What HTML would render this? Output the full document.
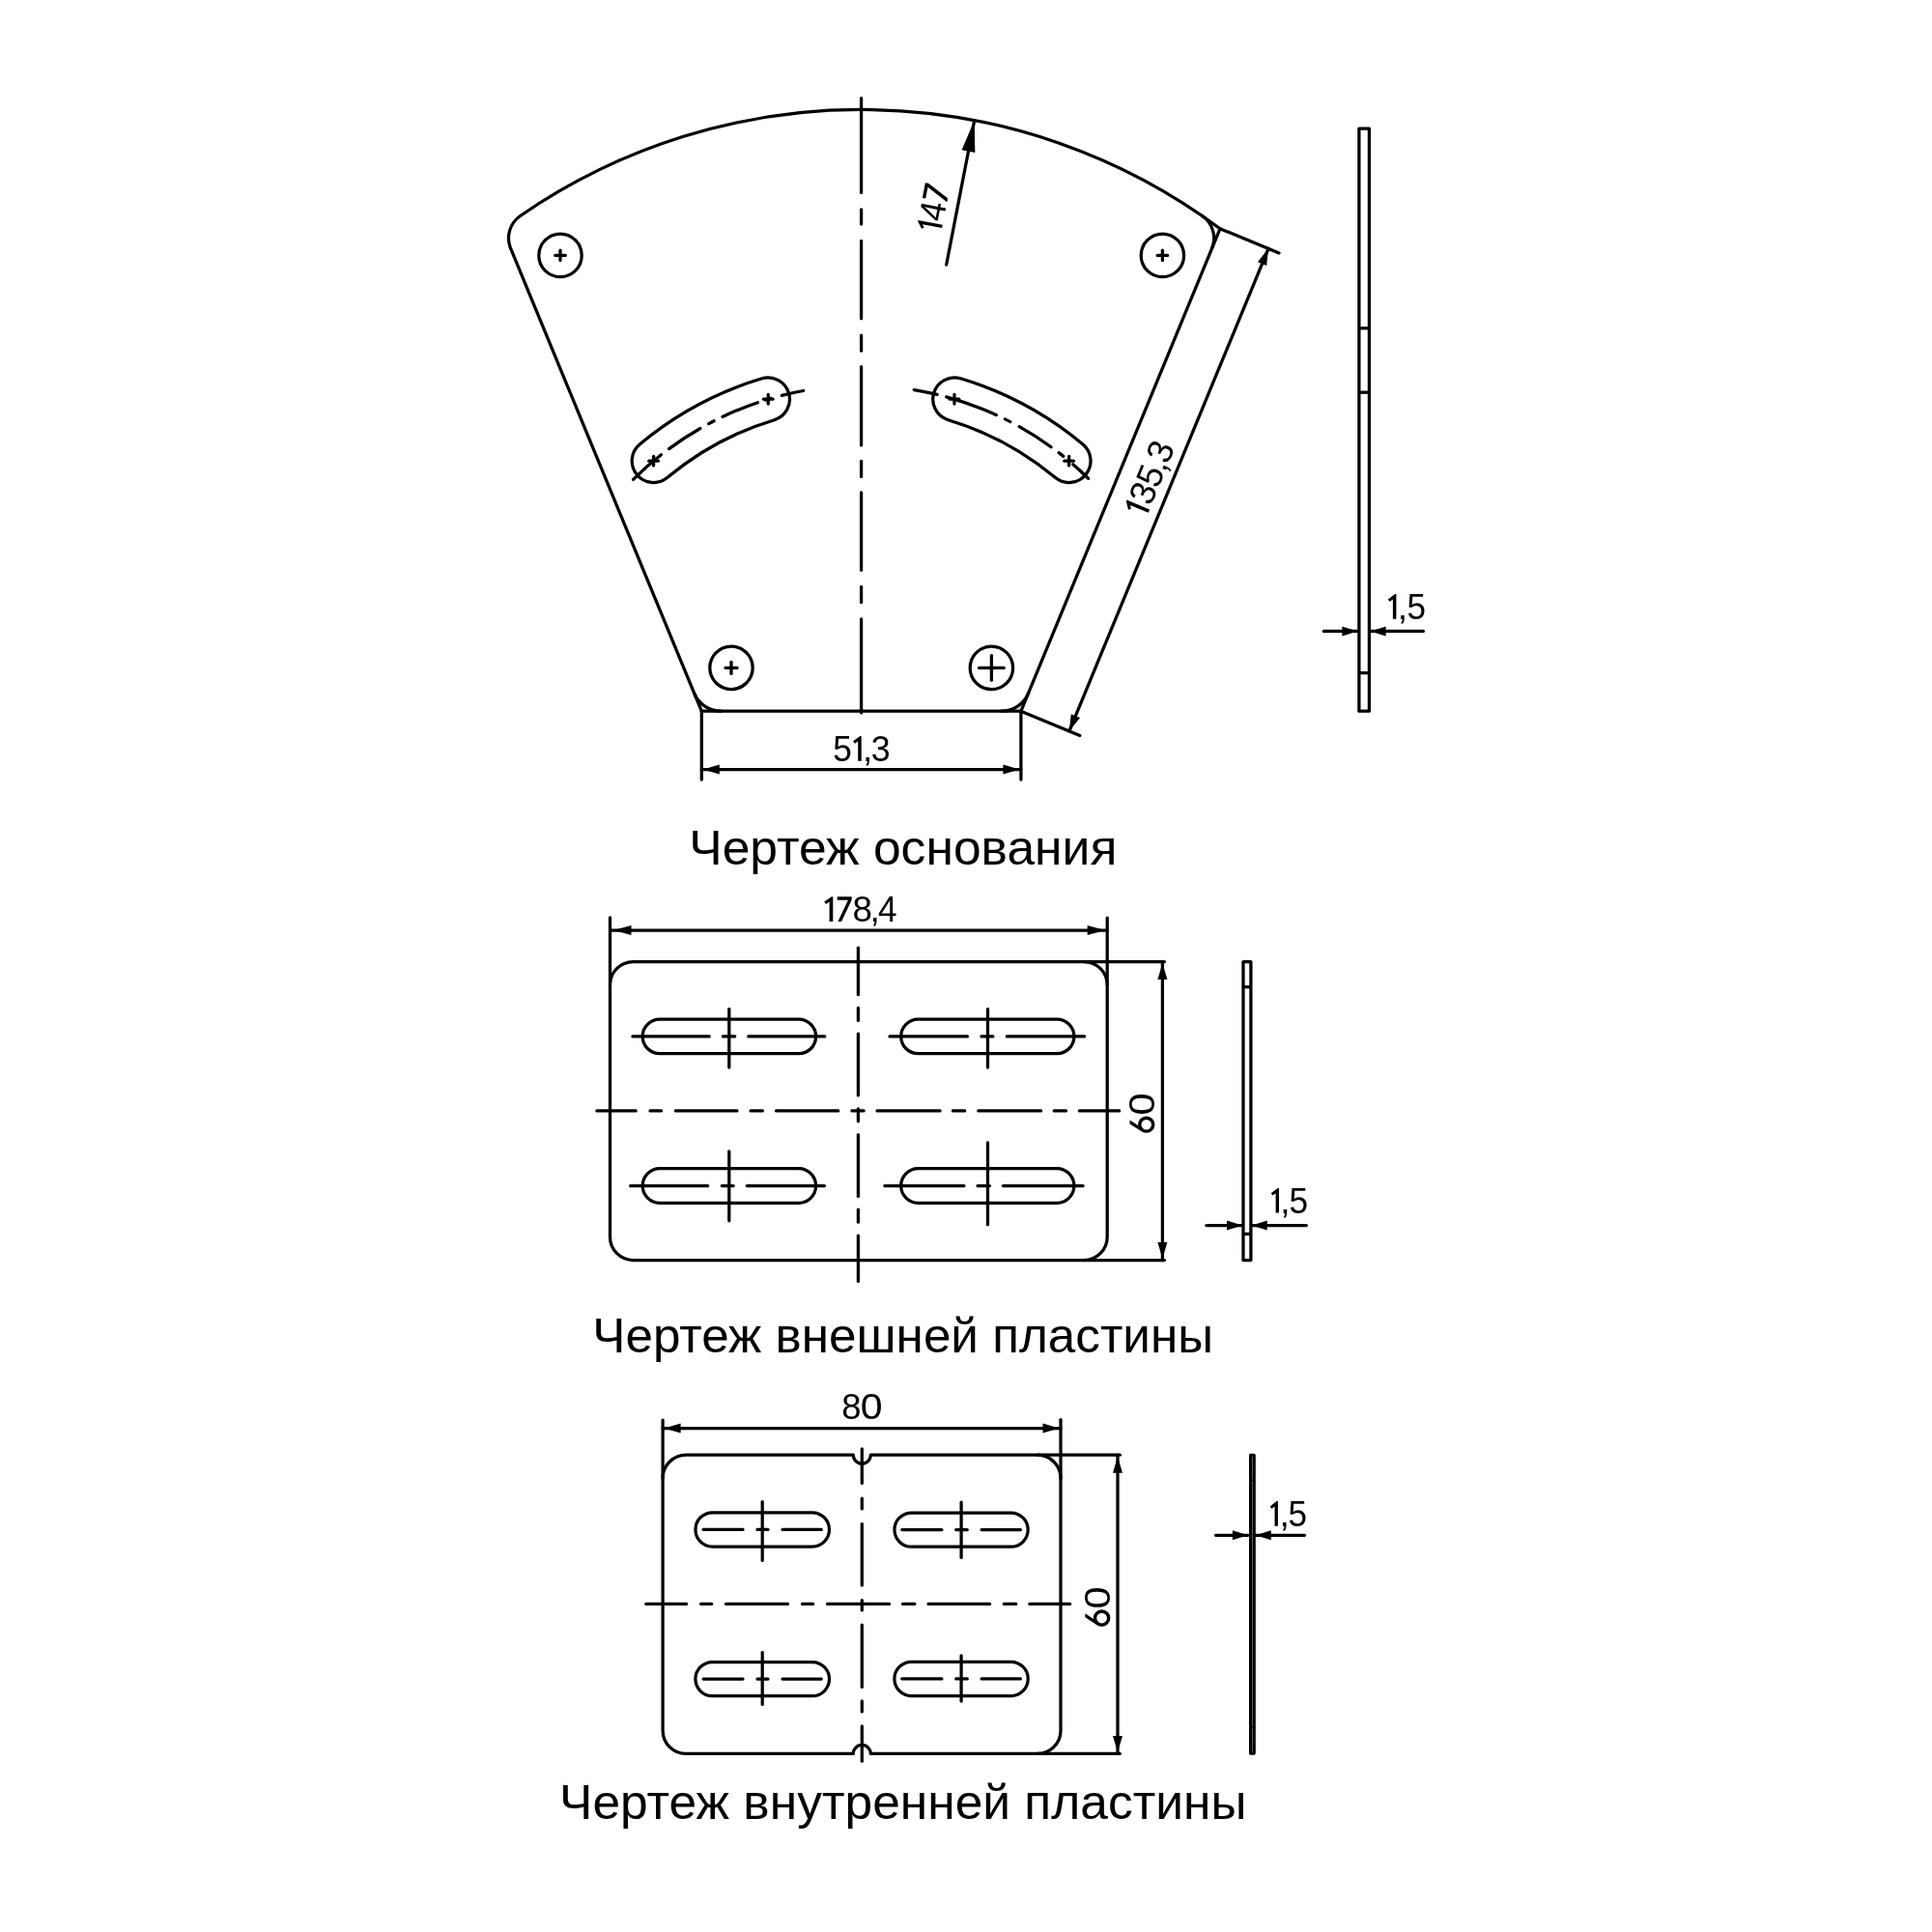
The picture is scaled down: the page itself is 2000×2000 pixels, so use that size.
<!DOCTYPE html>
<html><head><meta charset="utf-8"><style>
html,body{margin:0;padding:0;background:#fff;width:2000px;height:2000px;overflow:hidden}
svg{display:block;will-change:transform}
text{font-family:"Liberation Sans",sans-serif;fill:#000;stroke:none}
</style></head><body>
<svg xmlns="http://www.w3.org/2000/svg" width="2000" height="2000" viewBox="0 0 2000 2000" stroke="#000" stroke-linecap="round" stroke-linejoin="round" fill="none" stroke-width="3.25">
<rect x="0" y="0" width="2000" height="2000" fill="#fff" stroke="none"/>
<path d="M528.62,257.21 A28.0,28.0 0 0 1 538.59,223.5 A621,621 0 0 1 1263.03,236.73 L1056.9,736.2 L726.3,736.2 L528.62,257.21" stroke-width="3.25" fill="none"/>
<path d="M1244.61,223.5 A28.0,28.0 0 0 1 1254.58,257.21" stroke-width="3.25" fill="none"/>
<path d="M718.64,717.64 A30.0,30.0 0 0 0 746.37,736.2" stroke-width="3.25" fill="none"/>
<path d="M1036.83,736.2 A30.0,30.0 0 0 0 1064.56,717.64" stroke-width="3.25" fill="none"/>
<line x1="891.6" y1="101.72" x2="891.6" y2="199.47" stroke-width="3.25"/>
<line x1="891.6" y1="216.82" x2="891.6" y2="232.07" stroke-width="3.25"/>
<line x1="891.6" y1="249.43" x2="891.6" y2="329.77" stroke-width="3.25"/>
<line x1="891.6" y1="347.02" x2="891.6" y2="363.18" stroke-width="3.25"/>
<line x1="891.6" y1="379.62" x2="891.6" y2="460.88" stroke-width="3.25"/>
<line x1="891.6" y1="477.32" x2="891.6" y2="493.38" stroke-width="3.25"/>
<line x1="891.6" y1="509.82" x2="891.6" y2="590.17" stroke-width="3.25"/>
<line x1="891.6" y1="607.42" x2="891.6" y2="623.58" stroke-width="3.25"/>
<line x1="891.6" y1="640.83" x2="891.6" y2="737.88" stroke-width="3.25"/>
<circle cx="580" cy="264.4" r="22.2" fill="none"/>
<line x1="574.8" y1="264.4" x2="585.2" y2="264.4" stroke-width="3.25"/>
<line x1="580" y1="259.2" x2="580" y2="269.6" stroke-width="3.25"/>
<circle cx="1203.4" cy="264.4" r="22.2" fill="none"/>
<line x1="1198.2" y1="264.4" x2="1208.6" y2="264.4" stroke-width="3.25"/>
<line x1="1203.4" y1="259.2" x2="1203.4" y2="269.6" stroke-width="3.25"/>
<circle cx="757" cy="691.3" r="22.2" fill="none"/>
<line x1="751.05" y1="691.3" x2="762.95" y2="691.3" stroke-width="3.25"/>
<line x1="757" y1="685.35" x2="757" y2="697.25" stroke-width="3.25"/>
<circle cx="1026.4" cy="691.4" r="22.2" fill="none"/>
<line x1="1013.6" y1="691.4" x2="1039.2" y2="691.4" stroke-width="3.25"/>
<line x1="1026.4" y1="678.6" x2="1026.4" y2="704.2" stroke-width="3.25"/>
<path d="M662.2,459.94 A357.7,357.7 0 0 1 788.81,391.79 A22.4,22.4 0 0 1 801.68,434.7 A312.9,312.9 0 0 0 690.93,494.32 A22.4,22.4 0 0 1 662.2,459.94 Z" stroke-width="3.25" fill="none"/>
<line x1="671.77" y1="477.13" x2="681.37" y2="477.13" stroke-width="3.25"/>
<line x1="676.57" y1="472.33" x2="676.57" y2="481.93" stroke-width="3.25"/>
<line x1="790.45" y1="413.24" x2="800.05" y2="413.24" stroke-width="3.25"/>
<line x1="795.25" y1="408.44" x2="795.25" y2="418.04" stroke-width="3.25"/>
<path d="M655.53,496.29 A335.3,335.3 0 0 1 684.4,470.78" stroke-width="3.25" fill="none"/>
<path d="M692.52,464.6 A335.3,335.3 0 0 1 724.88,443.49" stroke-width="3.25" fill="none"/>
<path d="M733.6,438.66 A335.3,335.3 0 0 1 739.08,435.8" stroke-width="3.25" fill="none"/>
<path d="M747.97,431.42 A335.3,335.3 0 0 1 784.4,416.7" stroke-width="3.25" fill="none"/>
<path d="M792.48,414.08 A335.3,335.3 0 0 1 798.02,412.42" stroke-width="3.25" fill="none"/>
<path d="M809.33,409.35 A335.3,335.3 0 0 1 831.67,404.5" stroke-width="3.25" fill="none"/>
<path d="M1121,459.94 A357.7,357.7 0 0 0 994.39,391.79 A22.4,22.4 0 0 0 981.52,434.7 A312.9,312.9 0 0 1 1092.27,494.32 A22.4,22.4 0 0 0 1121,459.94 Z" stroke-width="3.25" fill="none"/>
<line x1="1101.83" y1="477.13" x2="1111.43" y2="477.13" stroke-width="3.25"/>
<line x1="1106.63" y1="472.33" x2="1106.63" y2="481.93" stroke-width="3.25"/>
<line x1="983.15" y1="413.24" x2="992.75" y2="413.24" stroke-width="3.25"/>
<line x1="987.95" y1="408.44" x2="987.95" y2="418.04" stroke-width="3.25"/>
<path d="M1126.67,495.3 A335.3,335.3 0 0 0 1110.81,480.68" stroke-width="3.25" fill="none"/>
<path d="M1100.8,472.37 A335.3,335.3 0 0 0 1096.03,468.63" stroke-width="3.25" fill="none"/>
<path d="M1088.09,462.7 A335.3,335.3 0 0 0 1055.16,441.7" stroke-width="3.25" fill="none"/>
<path d="M1045.82,436.67 A335.3,335.3 0 0 0 1040.35,433.9" stroke-width="3.25" fill="none"/>
<path d="M1031.36,429.62 A335.3,335.3 0 0 0 979.72,410.89" stroke-width="3.25" fill="none"/>
<path d="M970.18,408.44 A335.3,335.3 0 0 0 946.23,403.58" stroke-width="3.25" fill="none"/>
<line x1="979.7" y1="274" x2="1008.7" y2="124.6" stroke-width="3.25"/>
<path d="M1008.7,124.6 L1009.36,157.94 L995.62,155.27 Z" fill="#000" stroke="none"/>
<g transform="translate(974.2,240.7) rotate(-79.015)"><polygon points="4.75,0 4.75,-20.49 1.75,-18.16 0,-20.49 6.75,-25.8 8,-25.8 8,0" fill="#000" stroke="none"/><text transform="translate(10.51,0) scale(0.9427,1)" font-size="37.39">4</text><polygon points="31.4,-25.8 47.4,-25.8 47.4,-22.57 36.09,0 32.15,0 43.4,-22.37 31.4,-22.37" fill="#000" stroke="none"/></g>
<line x1="1263.03" y1="236.73" x2="1324.04" y2="261.9" stroke-width="3.25"/>
<line x1="1056.9" y1="736.2" x2="1117.91" y2="761.38" stroke-width="3.25"/>
<line x1="1313.04" y1="257.37" x2="1106.91" y2="756.84" stroke-width="3.25"/>
<path d="M1313.04,257.37 L1311.18,274.99 L1301.93,271.17 Z" fill="#000" stroke="none"/>
<path d="M1106.91,756.84 L1108.77,739.22 L1118.02,743.03 Z" fill="#000" stroke="none"/>
<g transform="translate(1186.79,535.44) rotate(-67.574)"><polygon points="5.17,0 5.17,-20.33 1.91,-18.02 0,-20.33 7.35,-25.6 8.71,-25.6 8.71,0" fill="#000" stroke="none"/><text transform="translate(11.81,0) scale(0.9771,1)" font-size="37.1">3</text><text transform="translate(31.29,0) scale(0.9658,1)" font-size="37.1">5</text><text x="49.41" y="0" font-size="37.1">,</text><text transform="translate(58.31,0) scale(0.9771,1)" font-size="37.1">3</text></g>
<line x1="726.3" y1="736.2" x2="726.3" y2="807" stroke-width="3.25"/>
<line x1="1056.9" y1="736.2" x2="1056.9" y2="807" stroke-width="3.25"/>
<line x1="726.3" y1="796.6" x2="1056.9" y2="796.6" stroke-width="3.25"/>
<path d="M727.8,796.6 L744.8,791.6 L744.8,801.6 Z" fill="#000" stroke="none"/>
<path d="M1055.4,796.6 L1038.4,801.6 L1038.4,791.6 Z" fill="#000" stroke="none"/>
<g transform="translate(863.7,787.7)"><text transform="translate(-1.41,0) scale(0.9533,1)" font-size="37.1">5</text><polygon points="24.51,0 24.51,-20.33 21.28,-18.02 19.4,-20.33 26.66,-25.6 28,-25.6 28,0" fill="#000" stroke="none"/><text x="29.31" y="0" font-size="37.1">,</text><text transform="translate(38.06,0) scale(0.9646,1)" font-size="37.1">3</text></g>
<rect x="1406.9" y="133" width="10.5" height="603.2" fill="none"/>
<line x1="1406.9" y1="339.8" x2="1417.4" y2="339.8" stroke-linecap="butt"/>
<line x1="1406.9" y1="406.2" x2="1417.4" y2="406.2" stroke-linecap="butt"/>
<line x1="1406.9" y1="696.6" x2="1417.4" y2="696.6" stroke-linecap="butt"/>
<line x1="1370.4" y1="653.4" x2="1405.4" y2="653.4" stroke-width="3.25"/>
<path d="M1405.4,653.4 L1389.4,658.4 L1389.4,648.4 Z" fill="#000" stroke="none"/>
<line x1="1418.6" y1="653.4" x2="1473.4" y2="653.4" stroke-width="3.25"/>
<path d="M1418.6,653.4 L1434.6,648.4 L1434.6,658.4 Z" fill="#000" stroke="none"/>
<g transform="translate(1436.8,640.8)"><polygon points="5.11,0 5.11,-20.41 1.88,-18.09 0,-20.41 7.26,-25.7 8.6,-25.7 8.6,0" fill="#000" stroke="none"/><text x="9.99" y="0" font-size="37.25">,</text><text transform="translate(19.59,0) scale(0.9439,1)" font-size="37.25">5</text></g>
<text transform="translate(713.27,895.4) scale(1.0160,1)" font-size="50.8" >Чертеж основания</text>
<path d="M655.5,995.6 L1122.2,995.6 A24.0,24.0 0 0 1 1146.2,1019.6 L1146.2,1280.5 A24.0,24.0 0 0 1 1122.2,1304.5 L655.5,1304.5 A24.0,24.0 0 0 1 631.5,1280.5 L631.5,1019.6 A24.0,24.0 0 0 1 655.5,995.6 Z" stroke-width="3.25" fill="none"/>
<line x1="631.5" y1="949.8" x2="631.5" y2="1019.6" stroke-width="3.25"/>
<line x1="1146.2" y1="950.1" x2="1146.2" y2="1019.6" stroke-width="3.25"/>
<line x1="1122.2" y1="995.6" x2="1205.4" y2="995.6" stroke-width="3.25"/>
<line x1="1122.2" y1="1304.5" x2="1205.4" y2="1304.5" stroke-width="3.25"/>
<line x1="631.5" y1="963.1" x2="1146.2" y2="963.1" stroke-width="3.25"/>
<path d="M635,963.1 L653.5,958.1 L653.5,968.1 Z" fill="#000" stroke="none"/>
<path d="M1144.2,963.1 L1125.7,968.1 L1125.7,958.1 Z" fill="#000" stroke="none"/>
<g transform="translate(853.2,953.9)"><polygon points="5.41,0 5.41,-20.33 1.99,-18.02 0,-20.33 7.68,-25.6 9.1,-25.6 9.1,0" fill="#000" stroke="none"/><polygon points="13.5,-25.6 28.5,-25.6 28.5,-22.4 17.89,0 14.21,0 24.75,-22.2 13.5,-22.2" fill="#000" stroke="none"/><text transform="translate(29.24,0) scale(0.9921,1)" font-size="37.1">8</text><text x="47.21" y="0" font-size="37.1">,</text><text transform="translate(55.91,0) scale(0.9500,1)" font-size="37.1">4</text></g>
<line x1="1203.4" y1="995.6" x2="1203.4" y2="1304.5" stroke-width="3.25"/>
<path d="M1203.4,997.1 L1208.4,1014.1 L1198.4,1014.1 Z" fill="#000" stroke="none"/>
<path d="M1203.4,1303 L1198.4,1286 L1208.4,1286 Z" fill="#000" stroke="none"/>
<g transform="translate(1195.25,1172.8) rotate(-90.000)"><circle cx="8.6" cy="-8.5" r="6.96" fill="none" stroke-width="3.4"/><polygon points="9.3,-25.7 13.37,-25.7 5.03,-13 1.19,-13" fill="#000" stroke="none"/><text transform="translate(18.25,0) scale(1.1131,1)" font-size="37.25">0</text></g>
<line x1="888.4" y1="981.23" x2="888.4" y2="1029.67" stroke-width="3.25"/>
<line x1="888.4" y1="1043.42" x2="888.4" y2="1056.47" stroke-width="3.25"/>
<line x1="888.4" y1="1070.22" x2="888.4" y2="1133.97" stroke-width="3.25"/>
<line x1="888.4" y1="1147.83" x2="888.4" y2="1160.78" stroke-width="3.25"/>
<line x1="888.4" y1="1174.62" x2="888.4" y2="1238.38" stroke-width="3.25"/>
<line x1="888.4" y1="1252.12" x2="888.4" y2="1265.17" stroke-width="3.25"/>
<line x1="888.4" y1="1279.03" x2="888.4" y2="1326.47" stroke-width="3.25"/>
<line x1="617.92" y1="1149.9" x2="658.17" y2="1149.9" stroke-width="3.25"/>
<line x1="673.02" y1="1149.9" x2="684.58" y2="1149.9" stroke-width="3.25"/>
<line x1="699.42" y1="1149.9" x2="762.98" y2="1149.9" stroke-width="3.25"/>
<line x1="777.12" y1="1149.9" x2="789.38" y2="1149.9" stroke-width="3.25"/>
<line x1="803.52" y1="1149.9" x2="867.77" y2="1149.9" stroke-width="3.25"/>
<line x1="881.92" y1="1149.9" x2="894.17" y2="1149.9" stroke-width="3.25"/>
<line x1="908.02" y1="1149.9" x2="973.08" y2="1149.9" stroke-width="3.25"/>
<line x1="986.42" y1="1149.9" x2="998.67" y2="1149.9" stroke-width="3.25"/>
<line x1="1012.83" y1="1149.9" x2="1077.58" y2="1149.9" stroke-width="3.25"/>
<line x1="1091.22" y1="1149.9" x2="1103.58" y2="1149.9" stroke-width="3.25"/>
<line x1="1117.33" y1="1149.9" x2="1158.67" y2="1149.9" stroke-width="3.25"/>
<path d="M683,1055.1 L826.8,1055.1 A17.8,17.8 0 0 1 826.8,1090.7 L683,1090.7 A17.8,17.8 0 0 1 683,1055.1 Z" stroke-width="3.25" fill="none"/>
<line x1="754.8" y1="1044.62" x2="754.8" y2="1105.08" stroke-width="3.25"/>
<line x1="654.92" y1="1072.9" x2="734.27" y2="1072.9" stroke-width="3.25"/>
<line x1="748.33" y1="1072.9" x2="760.67" y2="1072.9" stroke-width="3.25"/>
<line x1="774.73" y1="1072.9" x2="853.77" y2="1072.9" stroke-width="3.25"/>
<path d="M950.5,1055.1 L1094.1,1055.1 A17.8,17.8 0 0 1 1094.1,1090.7 L950.5,1090.7 A17.8,17.8 0 0 1 950.5,1055.1 Z" stroke-width="3.25" fill="none"/>
<line x1="1022.5" y1="1044.62" x2="1022.5" y2="1105.08" stroke-width="3.25"/>
<line x1="920.92" y1="1072.9" x2="1001.48" y2="1072.9" stroke-width="3.25"/>
<line x1="1015.92" y1="1072.9" x2="1027.88" y2="1072.9" stroke-width="3.25"/>
<line x1="1042.33" y1="1072.9" x2="1122.67" y2="1072.9" stroke-width="3.25"/>
<path d="M683,1209.7 L826.8,1209.7 A17.8,17.8 0 0 1 826.8,1245.3 L683,1245.3 A17.8,17.8 0 0 1 683,1209.7 Z" stroke-width="3.25" fill="none"/>
<line x1="754.8" y1="1191.83" x2="754.8" y2="1263.78" stroke-width="3.25"/>
<line x1="652.62" y1="1227.5" x2="732.67" y2="1227.5" stroke-width="3.25"/>
<line x1="747.33" y1="1227.5" x2="759.08" y2="1227.5" stroke-width="3.25"/>
<line x1="773.23" y1="1227.5" x2="853.48" y2="1227.5" stroke-width="3.25"/>
<path d="M950.5,1209.7 L1094.1,1209.7 A17.8,17.8 0 0 1 1094.1,1245.3 L950.5,1245.3 A17.8,17.8 0 0 1 950.5,1209.7 Z" stroke-width="3.25" fill="none"/>
<line x1="1022.5" y1="1182.83" x2="1022.5" y2="1267.67" stroke-width="3.25"/>
<line x1="915.83" y1="1227.5" x2="997.98" y2="1227.5" stroke-width="3.25"/>
<line x1="1012.02" y1="1227.5" x2="1024.38" y2="1227.5" stroke-width="3.25"/>
<line x1="1038.42" y1="1227.5" x2="1121.08" y2="1227.5" stroke-width="3.25"/>
<rect x="1287" y="995.6" width="7.9" height="308.9" fill="none"/>
<line x1="1287" y1="1021.7" x2="1294.9" y2="1021.7" stroke-linecap="butt"/>
<line x1="1287" y1="1277.4" x2="1294.9" y2="1277.4" stroke-linecap="butt"/>
<line x1="1248.9" y1="1268.6" x2="1286" y2="1268.6" stroke-width="3.25"/>
<path d="M1286,1268.6 L1270,1273.6 L1270,1263.6 Z" fill="#000" stroke="none"/>
<line x1="1295.8" y1="1268.6" x2="1352.3" y2="1268.6" stroke-width="3.25"/>
<path d="M1295.8,1268.6 L1311.8,1263.6 L1311.8,1273.6 Z" fill="#000" stroke="none"/>
<g transform="translate(1315.7,1255.6)"><polygon points="4.93,0 4.93,-20.41 1.82,-18.09 0,-20.41 7.01,-25.7 8.3,-25.7 8.3,0" fill="#000" stroke="none"/><text x="9.59" y="0" font-size="37.25">,</text><text transform="translate(18.89,0) scale(0.9496,1)" font-size="37.25">5</text></g>
<text transform="translate(613.3,1399.5) scale(1.0084,1)" font-size="50.8" >Чертеж внешней пластины</text>
<path d="M710.1,1506.2 L883.3,1506.2 A9.0,9.0 0 0 0 901.3,1506.2 L1074,1506.2 A24.0,24.0 0 0 1 1098,1530.2 L1098,1791.4 A24.0,24.0 0 0 1 1074,1815.4 L901.3,1815.4 A9.0,9.0 0 0 0 883.3,1815.4 L710.1,1815.4 A24.0,24.0 0 0 1 686.1,1791.4 L686.1,1530.2 A24.0,24.0 0 0 1 710.1,1506.2 Z" stroke-width="3.25" fill="none"/>
<line x1="686.1" y1="1470" x2="686.1" y2="1530.2" stroke-width="3.25"/>
<line x1="1098" y1="1469.5" x2="1098" y2="1530.2" stroke-width="3.25"/>
<line x1="1074" y1="1506.2" x2="1159.3" y2="1506.2" stroke-width="3.25"/>
<line x1="1074" y1="1815.4" x2="1159.3" y2="1815.4" stroke-width="3.25"/>
<line x1="686.1" y1="1478.6" x2="1098" y2="1478.6" stroke-width="3.25"/>
<path d="M687.6,1478.6 L704.6,1473.6 L704.6,1483.6 Z" fill="#000" stroke="none"/>
<path d="M1096.5,1478.6 L1079.5,1483.6 L1079.5,1473.6 Z" fill="#000" stroke="none"/>
<g transform="translate(872.7,1469.3)"><text transform="translate(-1.55,0) scale(0.9768,1)" font-size="37.25">8</text><text transform="translate(18.06,0) scale(1.1019,1)" font-size="37.25">0</text></g>
<line x1="1157" y1="1506.2" x2="1157" y2="1815.4" stroke-width="3.25"/>
<path d="M1157,1507.7 L1162,1524.7 L1152,1524.7 Z" fill="#000" stroke="none"/>
<path d="M1157,1813.9 L1152,1796.9 L1162,1796.9 Z" fill="#000" stroke="none"/>
<g transform="translate(1149.1,1683.8) rotate(-90.000)"><circle cx="8.75" cy="-8.5" r="7.08" fill="none" stroke-width="3.4"/><polygon points="9.46,-25.7 13.6,-25.7 5.12,-13 1.21,-13" fill="#000" stroke="none"/><text transform="translate(18.24,0) scale(1.1187,1)" font-size="37.25">0</text></g>
<line x1="892.3" y1="1499.92" x2="892.3" y2="1535.47" stroke-width="3.25"/>
<line x1="892.3" y1="1551.22" x2="892.3" y2="1561.88" stroke-width="3.25"/>
<line x1="892.3" y1="1577.62" x2="892.3" y2="1641.08" stroke-width="3.25"/>
<line x1="892.3" y1="1656.53" x2="892.3" y2="1666.97" stroke-width="3.25"/>
<line x1="892.3" y1="1682.03" x2="892.3" y2="1746.38" stroke-width="3.25"/>
<line x1="892.3" y1="1760.92" x2="892.3" y2="1771.88" stroke-width="3.25"/>
<line x1="892.3" y1="1786.92" x2="892.3" y2="1823.17" stroke-width="3.25"/>
<line x1="668.83" y1="1660.4" x2="710.58" y2="1660.4" stroke-width="3.25"/>
<line x1="725.62" y1="1660.4" x2="736.67" y2="1660.4" stroke-width="3.25"/>
<line x1="751.62" y1="1660.4" x2="815.48" y2="1660.4" stroke-width="3.25"/>
<line x1="830.62" y1="1660.4" x2="841.58" y2="1660.4" stroke-width="3.25"/>
<line x1="856.62" y1="1660.4" x2="920.48" y2="1660.4" stroke-width="3.25"/>
<line x1="934.62" y1="1660.4" x2="946.88" y2="1660.4" stroke-width="3.25"/>
<line x1="961.02" y1="1660.4" x2="1024.58" y2="1660.4" stroke-width="3.25"/>
<line x1="1039.42" y1="1660.4" x2="1051.67" y2="1660.4" stroke-width="3.25"/>
<line x1="1065.83" y1="1660.4" x2="1107.58" y2="1660.4" stroke-width="3.25"/>
<path d="M737.5,1565.8 L840.9,1565.8 A17.6,17.6 0 0 1 840.9,1601 L737.5,1601 A17.6,17.6 0 0 1 737.5,1565.8 Z" stroke-width="3.25" fill="none"/>
<line x1="789.2" y1="1554.62" x2="789.2" y2="1615.38" stroke-width="3.25"/>
<line x1="728.12" y1="1583.4" x2="768.98" y2="1583.4" stroke-width="3.25"/>
<line x1="784.02" y1="1583.4" x2="794.98" y2="1583.4" stroke-width="3.25"/>
<line x1="810.02" y1="1583.4" x2="850.27" y2="1583.4" stroke-width="3.25"/>
<path d="M943.5,1566 L1046.6,1566 A17.6,17.6 0 0 1 1046.6,1601.2 L943.5,1601.2 A17.6,17.6 0 0 1 943.5,1566 Z" stroke-width="3.25" fill="none"/>
<line x1="995.1" y1="1555.03" x2="995.1" y2="1612.38" stroke-width="3.25"/>
<line x1="933.83" y1="1583.6" x2="974.88" y2="1583.6" stroke-width="3.25"/>
<line x1="989.73" y1="1583.6" x2="1001.27" y2="1583.6" stroke-width="3.25"/>
<line x1="1016.12" y1="1583.6" x2="1056.38" y2="1583.6" stroke-width="3.25"/>
<path d="M737.5,1720.5 L840.9,1720.5 A17.6,17.6 0 0 1 840.9,1755.7 L737.5,1755.7 A17.6,17.6 0 0 1 737.5,1720.5 Z" stroke-width="3.25" fill="none"/>
<line x1="789.2" y1="1710.62" x2="789.2" y2="1764.47" stroke-width="3.25"/>
<line x1="728.12" y1="1738.1" x2="768.98" y2="1738.1" stroke-width="3.25"/>
<line x1="784.02" y1="1738.1" x2="794.98" y2="1738.1" stroke-width="3.25"/>
<line x1="810.02" y1="1738.1" x2="850.27" y2="1738.1" stroke-width="3.25"/>
<path d="M943.5,1720.3 L1046.6,1720.3 A17.6,17.6 0 0 1 1046.6,1755.5 L943.5,1755.5 A17.6,17.6 0 0 1 943.5,1720.3 Z" stroke-width="3.25" fill="none"/>
<line x1="995.1" y1="1713.83" x2="995.1" y2="1761.08" stroke-width="3.25"/>
<line x1="933.83" y1="1737.9" x2="974.88" y2="1737.9" stroke-width="3.25"/>
<line x1="989.73" y1="1737.9" x2="1001.27" y2="1737.9" stroke-width="3.25"/>
<line x1="1016.12" y1="1737.9" x2="1056.38" y2="1737.9" stroke-width="3.25"/>
<rect x="1294.6" y="1506.4" width="3.6" height="308.6" fill="none"/>
<line x1="1294.6" y1="1532.3" x2="1298.2" y2="1532.3" stroke-width="1.5" stroke-linecap="butt"/>
<line x1="1294.6" y1="1788.1" x2="1298.2" y2="1788.1" stroke-width="1.5" stroke-linecap="butt"/>
<line x1="1258.6" y1="1589.3" x2="1291.9" y2="1589.3" stroke-width="3.25"/>
<path d="M1291.9,1589.3 L1275.9,1594.3 L1275.9,1584.3 Z" fill="#000" stroke="none"/>
<line x1="1299.8" y1="1589.3" x2="1350.4" y2="1589.3" stroke-width="3.25"/>
<path d="M1299.8,1589.3 L1315.8,1584.3 L1315.8,1594.3 Z" fill="#000" stroke="none"/>
<g transform="translate(1314.7,1579.8)"><polygon points="4.87,0 4.87,-20.41 1.8,-18.09 0,-20.41 6.92,-25.7 8.2,-25.7 8.2,0" fill="#000" stroke="none"/><text x="9.89" y="0" font-size="37.25">,</text><text transform="translate(18.89,0) scale(0.9439,1)" font-size="37.25">5</text></g>
<text transform="translate(579.08,1882.9) scale(1.0140,1)" font-size="50.8" >Чертеж внутренней пластины</text>
</svg>
</body></html>
